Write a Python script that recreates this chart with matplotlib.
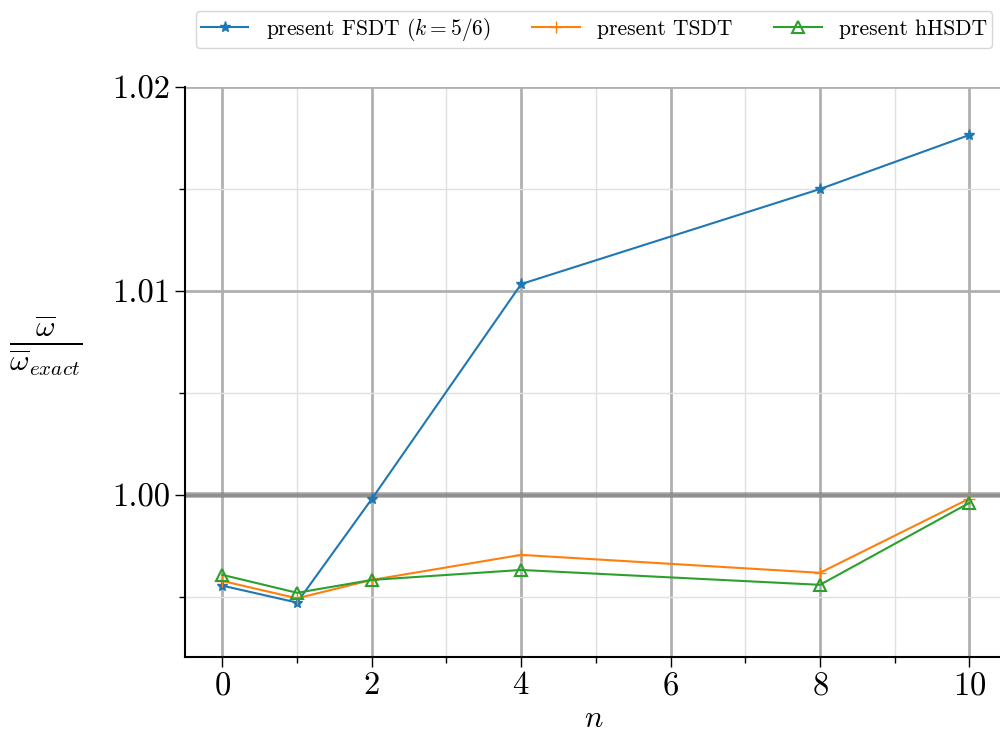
import numpy as np
import matplotlib
matplotlib.use("Agg")
import matplotlib.pyplot as plt
from matplotlib.ticker import MultipleLocator, FormatStrFormatter

plt.rcParams["font.family"] = "serif"
plt.rcParams["font.serif"] = ["cmr10", "DejaVu Serif"]
plt.rcParams["mathtext.fontset"] = "cm"
plt.rcParams["axes.formatter.use_mathtext"] = True

# data
n_values = [0, 1, 2, 4, 8, 10]
fsdt = [0.99555, 0.99472, 0.99980, 1.01034, 1.01500, 1.01765]
tsdt = [0.99578, 0.99493, 0.99583, 0.99706, 0.99618, 0.99982]
hhsdt = [0.99608, 0.99520, 0.99583, 0.99632, 0.99559, 0.99961]

labels = [r"present FSDT ($k=5/6$)", "present TSDT", "present hHSDT"]

fig = plt.figure(figsize=(10, 7.38), dpi=100)
ax = fig.add_axes([0.185, 0.11, 0.818, 0.772])

ax.axhline(1.0, color="gray", lw=4, alpha=0.7, zorder=1)
ax.plot(n_values, fsdt, "-*", color="tab:blue", lw=1.5, ms=8, label=labels[0], zorder=3)
ax.plot(n_values, tsdt, "-+", color="tab:orange", lw=1.5, ms=9, label=labels[1], zorder=3)
ax.plot(n_values, hhsdt, "-^", color="tab:green", lw=1.5, ms=8, mfc="none",
        mew=1.5, label=labels[2], zorder=3)

ax.set_xlim(-0.5, 10.45)
ax.set_ylim(0.99206, 1.02)
ax.xaxis.set_major_locator(MultipleLocator(2))
ax.xaxis.set_minor_locator(MultipleLocator(1))
ax.yaxis.set_major_locator(MultipleLocator(0.01))
ax.yaxis.set_minor_locator(MultipleLocator(0.005))
ax.yaxis.set_major_formatter(FormatStrFormatter("%.2f"))

ax.grid(which="major", color="#b0b0b0", lw=2, zorder=0)
ax.grid(which="minor", color="#e0e0e0", lw=1, zorder=0)
ax.set_axisbelow(True)

for side in ["top", "right"]:
    ax.spines[side].set_visible(False)
ax.spines["left"].set_linewidth(1.5)
ax.spines["bottom"].set_linewidth(1.5)

ax.tick_params(which="major", labelsize=23.5, length=7, width=1)
ax.tick_params(which="minor", length=4, width=1)

ax.set_xlabel(r"$n$", fontsize=22, labelpad=4)
ax.set_ylabel(r"$\frac{\overline{\omega}}{\overline{\omega}_{exact}}$", fontsize=31,
              rotation=0, ha="center", va="center")
ax.yaxis.set_label_coords(-0.17, 0.545)

ax.legend(loc="lower center", bbox_to_anchor=(0.5, 1.068), ncol=3, fontsize=15.5,
          frameon=True, handlelength=2.2, columnspacing=1.95, borderpad=0.25,
          borderaxespad=0.0)

fig.savefig("out.png", dpi=100)
